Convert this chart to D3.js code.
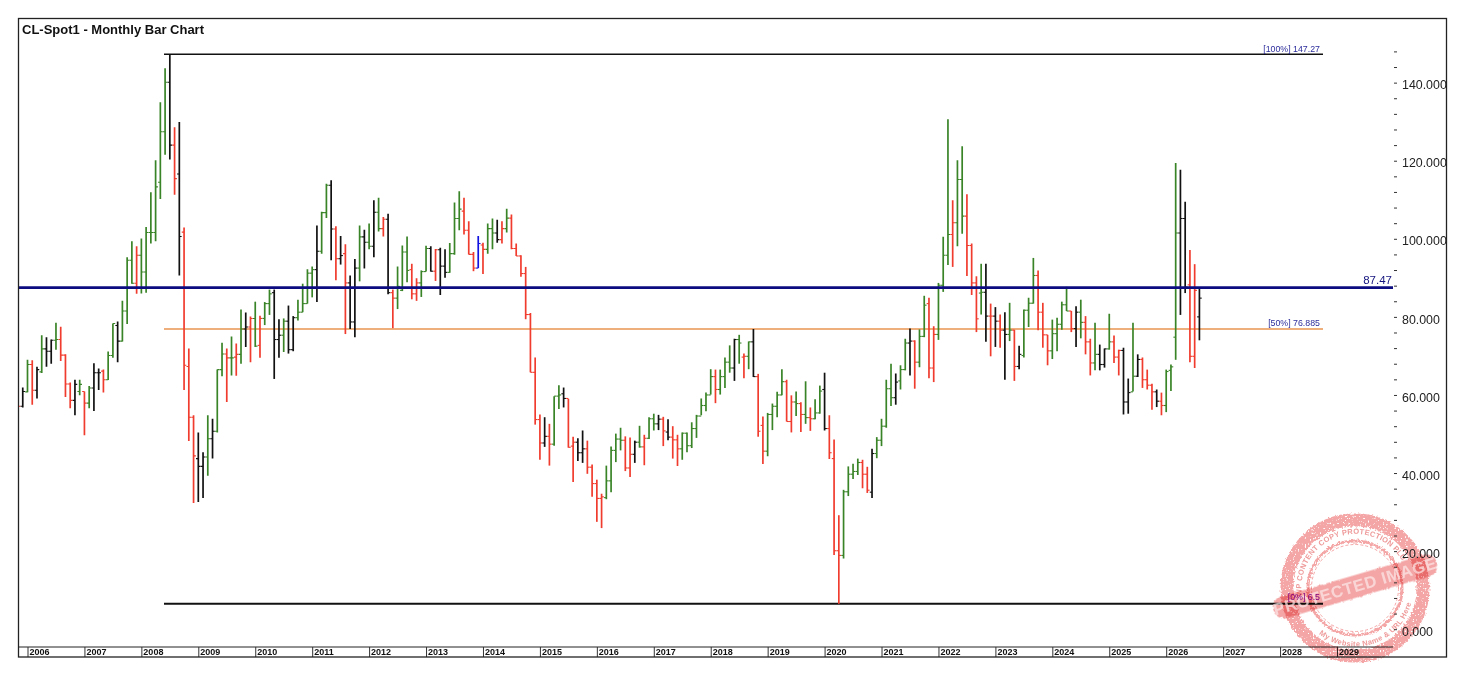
<!DOCTYPE html>
<html>
<head>
<meta charset="utf-8">
<title>CL-Spot1 - Monthly Bar Chart</title>
<script src="https://cdn.jsdelivr.net/npm/d3@7"></script>
<style>
  html, body { margin: 0; padding: 0; background: #fff; }
  svg { display: block; }
  .axis path { display: none; }
  .lab { font-family: "Liberation Sans", Arial, sans-serif; }
</style>
</head>
<body>
<div id="chart"></div>
<script>
// one bar per month, first bar is Nov 2005 (barIndex -2), Jan 2006 is 0
var barIndex = d3.range(-2, 248);

var highs = [59, 61.9,
  69.0, 68.9, 67.2, 75.3, 74.8, 74.2, 78.5, 77.5, 70.4, 63.2,
  63.9, 63.9, 60.9, 62.3, 68.1, 66.8, 66.5, 71.1, 78.3, 78.8,
  84.1, 95.3, 99.4, 98.1, 100.1, 103.0, 111.9, 120.1, 135.0, 143.7,
  147.27, 128.6, 129.9, 102.9, 71.9, 54.8, 50.4, 45.3, 54.8, 53.9,
  66.5, 73.4, 71.9, 75.0, 73.2, 81.9, 81.1, 80.1, 83.9, 80.3,
  83.8, 87.0, 87.0, 79.4, 79.6, 82.9, 80.2, 84.4, 88.5, 92.2,
  92.9, 103.4, 106.9, 114.1, 115.0, 103.2, 100.7, 98.6, 90.6, 94.8,
  103.4, 102.3, 103.9, 109.9, 110.5, 105.6, 106.4, 87.0, 92.9, 98.3,
  100.6, 93.6, 89.9, 91.9, 98.2, 98.1, 97.4, 97.7, 97.3, 98.9,
  109.3, 112.2, 110.5, 104.5, 96.6, 100.7, 99.0, 103.9, 105.2, 104.9,
  104.5, 107.7, 106.2, 98.8, 95.8, 92.8, 81.0, 69.6, 55.0, 54.3,
  52.6, 59.7, 62.5, 61.9, 59.0, 49.3, 48.9, 50.9, 48.3, 42.2,
  38.3, 34.7, 41.9, 46.8, 50.1, 51.6, 49.4, 49.1, 48.3, 52.1,
  49.8, 54.3, 55.2, 54.9, 54.4, 53.8, 52.0, 49.8, 50.4, 50.4,
  53.0, 54.9, 59.1, 60.6, 66.6, 66.5, 66.5, 69.6, 72.7, 74.4,
  75.4, 70.6, 73.7, 76.9, 65.4, 54.5, 55.4, 57.8, 60.8, 66.6,
  63.9, 59.9, 60.9, 58.1, 63.5, 56.8, 58.9, 62.4, 65.7, 54.8,
  48.6, 29.2, 35.7, 41.7, 42.4, 43.7, 43.4, 41.6, 46.2, 49.2,
  53.9, 63.9, 68.0, 65.5, 67.6, 74.4, 77.0, 74.0, 76.8, 85.4,
  84.9, 77.6, 88.7, 100.5, 130.6, 109.9, 120.1, 123.7, 111.4, 98.8,
  90.4, 93.6, 93.6, 83.4, 82.5, 80.6, 81.2, 83.6, 76.7, 72.6,
  81.9, 84.9, 95.1, 91.9, 83.6, 75.4, 79.3, 79.8, 83.9, 87.7,
  81.5, 82.7, 84.4, 80.2, 74.4, 78.5, 72.9, 71.9, 80.8, 75.2,
  71.6, 72.1, 64.2, 78.5, 70.4, 69.6, 66.5, 62.9, 61.4, 60.6,
  66.5, 67.8, 119.4, 117.7, 109.5, 97.1, 93.5, 87.6];

var lows = [55, 56.8,
  60.7, 57.5, 59.1, 65.6, 67.2, 68.0, 71.6, 68.7, 59.5, 56.6,
  54.8, 59.9, 49.7, 56.6, 55.9, 61.3, 60.6, 63.8, 69.5, 68.4,
  73.7, 78.2, 88.5, 85.9, 86.0, 86.2, 98.8, 99.4, 110.2, 121.5,
  120.3, 111.3, 90.6, 61.3, 48.2, 32.3, 32.6, 33.6, 39.3, 43.7,
  50.4, 64.8, 58.2, 65.0, 64.9, 68.0, 72.3, 68.4, 72.3, 69.5,
  77.9, 80.5, 64.1, 69.5, 71.0, 70.6, 71.2, 79.1, 81.2, 83.4,
  85.0, 83.8, 96.2, 105.3, 94.5, 89.4, 93.4, 75.6, 76.9, 74.8,
  89.1, 92.4, 97.3, 95.3, 101.9, 100.6, 85.8, 77.1, 82.0, 86.6,
  88.9, 84.5, 84.1, 85.1, 91.6, 91.6, 89.2, 85.6, 90.0, 91.3,
  95.9, 102.2, 101.1, 96.0, 91.7, 92.5, 91.0, 96.2, 97.3, 99.0,
  98.8, 101.6, 97.3, 95.6, 90.3, 79.4, 65.8, 52.4, 43.4, 46.7,
  41.9, 47.0, 56.4, 56.8, 46.5, 37.7, 43.1, 42.6, 39.8, 33.9,
  27.5, 25.9, 33.3, 35.1, 42.8, 45.8, 40.5, 39.0, 42.6, 46.5,
  42.0, 48.7, 50.9, 51.0, 46.9, 48.4, 43.7, 41.8, 43.4, 45.3,
  46.4, 49.0, 54.8, 55.8, 60.1, 57.9, 60.1, 61.8, 65.7, 63.6,
  68.0, 64.3, 66.6, 64.6, 49.3, 42.3, 44.3, 51.0, 54.3, 59.9,
  53.2, 50.4, 54.6, 50.5, 52.6, 50.8, 53.8, 55.2, 50.9, 43.6,
  19.0, 6.5, 18.1, 34.1, 38.5, 39.5, 36.1, 34.9, 33.6, 43.8,
  46.9, 51.6, 57.2, 57.5, 61.4, 66.3, 65.0, 61.6, 67.1, 74.8,
  64.3, 63.3, 74.1, 86.4, 93.3, 92.8, 98.1, 101.3, 90.5, 85.6,
  76.1, 80.6, 73.6, 69.9, 72.3, 72.1, 63.9, 73.8, 63.6, 66.6,
  69.6, 77.4, 83.4, 76.6, 72.1, 67.6, 69.2, 71.2, 76.7, 81.5,
  76.1, 72.3, 74.5, 70.4, 65.0, 66.3, 66.3, 67.0, 71.6, 68.2,
  65.0, 55.0, 55.2, 60.9, 64.6, 61.8, 61.4, 56.2, 56.9, 54.8,
  55.6, 61.0, 69.0, 80.5, 86.1, 68.4, 66.9, 74.0];

var opens = [58, 57.1,
  60.8, 67.8, 61.2, 65.9, 71.8, 71.2, 74.0, 74.2, 70.2, 62.8,
  58.6, 60.9, 60.9, 57.9, 61.8, 65.7, 66.1, 63.9, 70.1, 77.8,
  73.8, 81.5, 94.5, 88.6, 95.8, 91.5, 101.6, 101.6, 114.5, 127.4,
  140.1, 124.0, 116.6, 101.7, 67.3, 54.3, 43.7, 41.7, 44.1, 48.8,
  50.7, 66.5, 70.5, 69.5, 69.7, 70.4, 76.9, 77.4, 79.6, 72.7,
  79.6, 83.4, 86.2, 74.2, 75.3, 78.9, 71.6, 79.8, 81.2, 83.4,
  91.2, 92.1, 96.8, 106.7, 113.7, 102.5, 94.9, 96.2, 88.7, 78.7,
  92.5, 100.5, 99.1, 98.1, 106.8, 102.6, 105.0, 86.2, 84.8, 86.8,
  96.6, 92.1, 85.9, 88.7, 91.6, 97.5, 91.7, 97.2, 93.0, 91.4,
  96.2, 105.2, 107.1, 102.2, 96.0, 92.5, 98.4, 97.3, 102.6, 101.5,
  99.8, 102.6, 105.3, 97.5, 95.6, 91.1, 80.6, 65.8, 53.7, 47.7,
  49.4, 47.4, 59.7, 60.3, 59.1, 46.9, 47.9, 45.2, 46.2, 41.5,
  37.3, 33.5, 33.7, 38.0, 45.8, 48.7, 48.4, 41.3, 44.8, 47.9,
  46.7, 48.9, 53.9, 52.6, 53.8, 50.5, 49.2, 48.5, 46.2, 50.2,
  47.0, 51.4, 54.6, 57.3, 60.0, 64.7, 61.4, 64.7, 68.4, 66.9,
  74.2, 69.7, 69.9, 73.6, 64.7, 52.2, 45.6, 55.0, 57.1, 60.0,
  63.4, 53.2, 58.2, 57.8, 55.0, 54.2, 53.9, 55.4, 61.4, 51.4,
  43.7, 20.1, 18.9, 35.2, 39.7, 40.4, 42.7, 39.7, 35.1, 45.0,
  48.4, 52.0, 61.6, 59.3, 63.6, 66.5, 73.3, 73.8, 68.4, 75.0,
  83.4, 66.9, 75.5, 88.1, 95.8, 101.1, 104.1, 115.2, 105.8, 98.3,
  88.7, 86.1, 86.3, 80.2, 80.2, 78.9, 76.6, 75.5, 76.6, 67.3,
  70.1, 81.7, 83.5, 90.6, 81.2, 75.4, 71.3, 75.7, 78.1, 83.1,
  81.5, 77.0, 81.2, 78.6, 73.6, 68.2, 70.4, 67.8, 71.8, 73.6,
  69.7, 71.4, 58.2, 60.8, 64.8, 69.1, 63.9, 62.5, 60.8, 58.4,
  57.3, 66.3, 74.8, 101.5, 105.2, 88.2, 69.9, 80.0];

var closes = [57.1, 60.9,
  67.8, 61.2, 66.5, 71.8, 71.2, 74.0, 74.2, 70.2, 62.8, 58.6,
  62.7, 62.7, 57.9, 61.8, 65.7, 65.7, 63.9, 70.1, 78.3, 73.8,
  81.5, 94.5, 88.6, 95.8, 91.5, 101.6, 101.6, 113.3, 127.4, 140.1,
  124.0, 115.4, 100.6, 67.6, 54.3, 44.4, 41.7, 44.1, 48.8, 50.7,
  66.5, 70.5, 69.5, 69.5, 70.4, 76.9, 77.4, 79.6, 72.5, 79.6,
  83.4, 85.9, 74.2, 75.3, 78.9, 71.6, 79.8, 81.2, 83.4, 91.2,
  92.1, 96.8, 106.7, 113.7, 102.5, 94.9, 95.7, 88.7, 78.7, 92.5,
  100.5, 99.1, 98.1, 106.8, 102.6, 105.0, 86.2, 84.8, 87.8, 96.6,
  91.9, 85.9, 88.7, 91.6, 97.5, 91.7, 97.2, 93.0, 91.4, 96.2,
  105.2, 107.6, 102.2, 96.0, 92.5, 98.8, 97.3, 102.6, 101.5, 99.8,
  102.6, 105.3, 97.5, 95.6, 91.1, 80.6, 65.8, 53.7, 47.7, 49.4,
  47.4, 59.7, 60.0, 59.1, 46.6, 47.9, 45.2, 46.2, 41.5, 37.3,
  33.5, 33.9, 38.0, 45.8, 48.7, 48.4, 41.3, 44.8, 47.9, 46.7,
  48.9, 53.9, 52.6, 53.8, 50.8, 49.2, 48.5, 46.2, 50.2, 47.0,
  51.4, 54.6, 57.3, 60.0, 64.7, 61.4, 64.7, 68.4, 66.9, 74.2,
  73.3, 69.9, 73.6, 64.7, 50.7, 45.6, 55.0, 57.1, 60.0, 63.4,
  53.2, 58.2, 57.8, 55.0, 54.2, 53.9, 55.4, 61.0, 51.4, 45.2,
  20.1, 18.9, 35.2, 39.7, 40.4, 42.7, 39.7, 35.6, 45.0, 48.4,
  52.0, 61.6, 59.3, 63.3, 66.5, 73.3, 73.8, 68.4, 75.0, 83.0,
  66.9, 75.5, 88.1, 95.8, 101.1, 104.1, 115.2, 105.8, 98.3, 88.7,
  79.5, 86.3, 80.2, 80.2, 78.9, 76.6, 75.5, 76.6, 67.3, 70.4,
  81.7, 83.5, 90.6, 81.2, 75.4, 71.3, 75.7, 78.1, 83.1, 81.5,
  77.0, 81.2, 78.6, 73.6, 68.2, 70.4, 67.8, 71.8, 73.6, 69.7,
  71.4, 58.2, 60.6, 64.8, 69.1, 63.9, 62.5, 60.8, 58.4, 57.3,
  66.0, 67.2, 101.5, 105.2, 87.6, 69.9, 86.8, 84.8];

// g up, r down, k outside/inside, b the single blue bar
var barKinds = ("r k " +
  "g r k g k k g r r r " +
  "k g r g k k r g g k " +
  "g g g r g g g g g g " +
  "k r k r r r k k g k " +
  "g g r g r g k r g r " +
  "g g k k g k k g g g " +
  "g k g g k r k r k k " +
  "g k g k g r k r g g " +
  "g r r g g k r k k g " +
  "g g r r r b r g g k " +
  "r g r r r r r r r k " +
  "r g g k r r k k r r " +
  "r r g g g g r r k g " +
  "r g g k r k r r g g " +
  "g g g g g r g g g k " +
  "g r g k r r g g g g " +
  "r r g r g r g g k r " +
  "r r g g g g r r k g " +
  "g g g k g g k r g g " +
  "r r g g g r g g r r " +
  "r g k r k r k g r k " +
  "g g g r r r g g g g " +
  "r k g r r g k k g r " +
  "r k k g k r r r k r " +
  "g g g k k r r k").split(" ");

var yearLabels = d3.range(2006, 2030);
var priceTicks = d3.range(0, 149, 4);
var majorEvery = 20;

var rangeHigh = 147.27, rangeMid = 76.885, rangeLow = 6.5, currentLevel = 87.47;

var barColors = {g: "#3a8428", r: "#f03c2e", k: "#111111", b: "#1212e0"};

var width = 1472, height = 680;
var frame = {left: 18.5, top: 18.5, right: 1446.5, bottom: 657};
var stripTop = 647, axisX = 1394, levelStart = 164, levelEnd = 1323;

var x = d3.scaleLinear().domain([0, 276]).range([27.5, 1337]);
var y = d3.scaleLinear().domain([0, 148]).range([629.2, 51.4]);

var svg = d3.select("#chart").append("svg")
            .attr("width", width)
            .attr("height", height);

var defs = svg.append("defs");
defs.append("clipPath").attr("id", "plot")
    .append("rect")
    .attr("x", frame.left).attr("y", frame.top)
    .attr("width", frame.right - frame.left).attr("height", stripTop - frame.top);

// horizontal levels go under the bars
var levels = svg.append("g");
function level(value, color, w, from, to) {
  levels.append("line")
        .attr("x1", from).attr("x2", to)
        .attr("y1", y(value)).attr("y2", y(value))
        .attr("stroke", color).attr("stroke-width", w);
}
level(rangeMid, "#ea9550", 1.6, levelStart, levelEnd);
level(rangeHigh, "#111", 1.4, levelStart, levelEnd);
level(rangeLow, "#111", 2, levelStart, levelEnd);

var bars = svg.append("g").attr("clip-path", "url(#plot)")
              .selectAll("g").data(barIndex).enter().append("g")
              .attr("stroke", function (d, i) {return barColors[barKinds[i]];});

bars.append("line").attr("stroke-width", 1.7)
    .attr("x1", function (d) {return x(d);}).attr("x2", function (d) {return x(d);})
    .attr("y1", function (d, i) {return y(highs[i]);})
    .attr("y2", function (d, i) {return y(lows[i]);});
bars.append("line").attr("stroke-width", 1.1)
    .attr("x1", function (d) {return x(d) - 2.3;}).attr("x2", function (d) {return x(d);})
    .attr("y1", function (d, i) {return y(opens[i]);})
    .attr("y2", function (d, i) {return y(opens[i]);});
bars.append("line").attr("stroke-width", 1.1)
    .attr("x1", function (d) {return x(d);}).attr("x2", function (d) {return x(d) + 2.3;})
    .attr("y1", function (d, i) {return y(closes[i]);})
    .attr("y2", function (d, i) {return y(closes[i]);});

// navy line sits on top of the bars
levels = svg.append("g");
level(currentLevel, "#0c0c80", 2.8, frame.left, axisX - 1);

// year strip along the bottom
var yearAxis = d3.axisBottom(x)
                 .tickValues(yearLabels.map(function (d) {return (d - 2006) * 12;}))
                 .tickSize(frame.bottom - stripTop)
                 .tickPadding(0)
                 .tickFormat(function (d) {return 2006 + d / 12;});

svg.append("line")
   .attr("x1", frame.left).attr("x2", axisX - 1)
   .attr("y1", stripTop).attr("y2", stripTop)
   .attr("stroke", "#222").attr("stroke-width", 1);

var xG = svg.append("g").attr("class", "axis")
            .attr("transform", "translate(0," + stripTop + ")")
            .call(yearAxis);
xG.selectAll(".tick line").attr("stroke", "#333");
xG.selectAll("text").attr("class", "lab")
  .attr("text-anchor", "start")
  .attr("x", 1.5).attr("y", 7.5).attr("dy", 0)
  .attr("font-size", 9).attr("font-weight", "bold").attr("fill", "#111");

// copy protection stamp, under the labels
var stampColor = "#f4a6a6";
var rough = defs.append("filter").attr("id", "rough")
                .attr("color-interpolation-filters", "sRGB")
                .attr("x", "-10%").attr("y", "-10%").attr("width", "120%").attr("height", "120%");
rough.append("feTurbulence").attr("type", "fractalNoise").attr("baseFrequency", 0.4)
     .attr("numOctaves", 2).attr("seed", 4).attr("result", "noise");
rough.append("feDisplacementMap").attr("in", "SourceGraphic").attr("in2", "noise")
     .attr("scale", 4).attr("xChannelSelector", "R").attr("yChannelSelector", "G").attr("result", "moved");
rough.append("feTurbulence").attr("type", "fractalNoise").attr("baseFrequency", 0.6)
     .attr("numOctaves", 1).attr("seed", 9);
rough.append("feColorMatrix").attr("type", "matrix")
     .attr("values", "0 0 0 0 0  0 0 0 0 0  0 0 0 0 0  8 0 0 0 -2.2").attr("result", "specks");
rough.append("feComposite").attr("in", "moved").attr("in2", "specks").attr("operator", "in");

var edge = defs.append("filter").attr("id", "edge")
               .attr("color-interpolation-filters", "sRGB")
               .attr("x", "-10%").attr("y", "-20%").attr("width", "120%").attr("height", "140%");
edge.append("feTurbulence").attr("type", "fractalNoise").attr("baseFrequency", 0.35)
    .attr("numOctaves", 2).attr("seed", 7).attr("result", "noise");
edge.append("feDisplacementMap").attr("in", "SourceGraphic").attr("in2", "noise")
    .attr("scale", 3).attr("xChannelSelector", "R").attr("yChannelSelector", "G");

defs.append("path").attr("id", "stampTop").attr("d", "M-53,8 A54,54 0 0 1 46,-29");
defs.append("path").attr("id", "stampBottom").attr("d", "M-36,46 A58,58 0 0 0 56,16");

var stamp = svg.append("g")
               .attr("transform", "translate(1355,588)")
               .style("mix-blend-mode", "multiply");
stamp.append("circle").attr("r", 68).attr("fill", "none")
     .attr("stroke", stampColor).attr("stroke-width", 13)
     .attr("filter", "url(#rough)");
stamp.append("circle").attr("r", 47).attr("fill", "none")
     .attr("stroke", stampColor).attr("stroke-width", 3)
     .attr("filter", "url(#rough)");
stamp.append("circle").attr("r", 43.5).attr("fill", "none")
     .attr("stroke", stampColor).attr("stroke-width", 1).attr("stroke-dasharray", "3 2");
stamp.append("text").attr("class", "lab")
     .attr("font-size", 7.5).attr("font-weight", "bold").attr("fill", "#ef9a9a").attr("letter-spacing", 0.25)
     .append("textPath").attr("href", "#stampTop").text("WP CONTENT COPY PROTECTION PLUGIN");
stamp.append("text").attr("class", "lab")
     .attr("font-size", 7.5).attr("font-weight", "bold").attr("fill", "#ef9a9a").attr("letter-spacing", 0.3)
     .append("textPath").attr("href", "#stampBottom").text("My Website Name & URL Here");

var band = svg.append("g")
              .attr("transform", "translate(1355,586) rotate(-16.3)")
              .style("mix-blend-mode", "multiply");
band.append("rect")
    .attr("x", -85).attr("y", -10.5).attr("width", 170).attr("height", 22).attr("rx", 10)
    .attr("fill", stampColor).attr("filter", "url(#edge)");
svg.append("text").attr("class", "lab")
   .attr("transform", "translate(1355,586) rotate(-16.3)")
   .attr("text-anchor", "middle").attr("y", 6)
   .attr("font-size", 16.5).attr("font-weight", "bold").attr("fill", "#fdeaea").attr("letter-spacing", 0.6)
   .attr("opacity", 0.7)
   .text("PROTECTED IMAGE");

function levelLabel(txt, value, dy, color, size, endX) {
  svg.append("text").attr("class", "lab")
     .attr("x", endX).attr("y", y(value) + dy)
     .attr("text-anchor", "end")
     .attr("font-size", size)
     .attr("fill", color)
     .text(txt);
}
levelLabel("[100%] 147.27", rangeHigh, -2, "#2c2c9c", 8.8, 1320);
levelLabel("[50%] 76.885", rangeMid, -3, "#2c2c9c", 8.8, 1320);
levelLabel("[0%] 6.5", rangeLow, -4, "#800080", 8.8, 1320);
levelLabel(d3.format(".2f")(currentLevel), currentLevel, -3.5, "#14147e", 11.5, 1392);

svg.append("text").attr("class", "lab")
   .attr("x", 22).attr("y", 34)
   .attr("font-size", 13).attr("font-weight", "bold").attr("fill", "#111")
   .text("CL-Spot1 - Monthly Bar Chart");

// price axis on the right, labelled every 20
var yAxis = d3.axisRight(y)
              .tickValues(priceTicks)
              .tickSize(3)
              .tickPadding(5)
              .tickFormat(function (d) {return d % majorEvery === 0 ? d3.format(".3f")(d) : "";});
var yG = svg.append("g").attr("class", "axis")
            .attr("transform", "translate(" + axisX + ",0)")
            .call(yAxis);
yG.selectAll("text").attr("class", "lab").attr("dy", "0.62em").attr("y", -1.5)
  .attr("x", 8).attr("font-size", 12.4).attr("fill", "#222");
yG.selectAll(".tick line").attr("stroke", "#333");

svg.append("rect")
   .attr("x", frame.left).attr("y", frame.top)
   .attr("width", frame.right - frame.left).attr("height", frame.bottom - frame.top)
   .attr("fill", "none").attr("stroke", "#222").attr("stroke-width", 1.3);
</script>
</body>
</html>
